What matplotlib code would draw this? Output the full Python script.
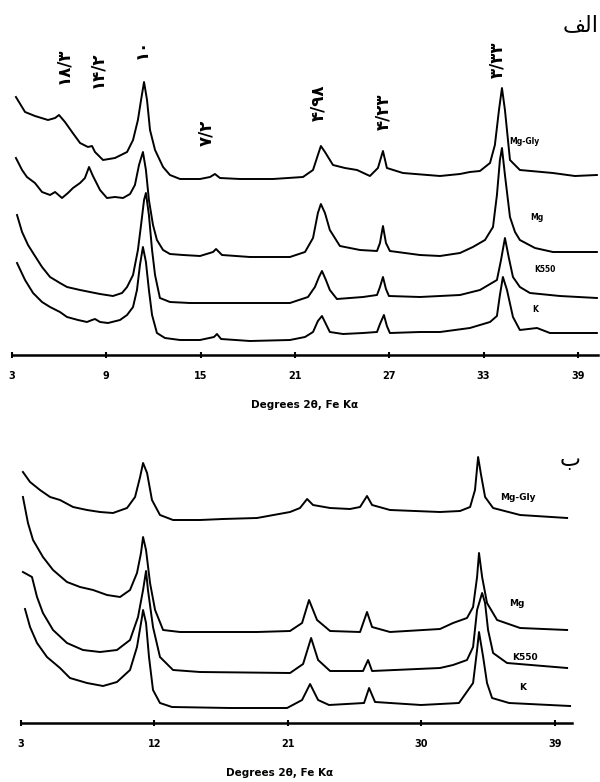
import matplotlib
matplotlib.use("Agg")
import matplotlib.pyplot as plt

plt.rcParams['font.family'] = ['DejaVu Sans']

# ---------------- Panel A (الف) ----------------
a_ticks = [3, 9, 15, 21, 27, 33, 39]

a_mggly_x = [3.25, 3.83, 4.46, 5.29, 5.74, 5.99, 6.37, 6.82, 7.33, 7.83, 8.09, 8.28, 8.79, 9.55, 10.32, 10.70, 11.01, 11.21, 11.40, 11.59, 11.78, 12.10, 12.61, 13.05, 13.69, 14.96, 15.60, 15.91, 16.23, 17.50, 19.60, 21.51, 22.15, 22.46, 22.65, 22.91, 23.42, 24.18, 24.95, 25.77, 26.28, 26.60, 26.85, 27.87, 30.23, 31.50, 32.13, 32.77, 33.41, 33.72, 33.98, 34.17, 34.36, 34.68, 35.31, 37.41, 38.81, 40.21]
a_mggly_y = [258, 243, 239, 235, 237, 240, 233, 223, 212, 208, 209, 203, 195, 197, 203, 215, 235, 255, 273, 255, 225, 205, 188, 180, 176, 176, 178, 181, 177, 176, 176, 178, 185, 200, 209, 203, 190, 187, 185, 179, 187, 204, 187, 182, 179, 181, 183, 184, 192, 210, 245, 267, 245, 195, 185, 182, 179, 180]

a_mg_x = [3.25, 3.64, 3.95, 4.46, 4.91, 5.42, 5.74, 6.18, 6.56, 6.88, 7.33, 7.64, 7.90, 8.15, 8.60, 9.04, 9.55, 10.06, 10.51, 10.82, 11.08, 11.33, 11.52, 11.71, 11.97, 12.22, 12.61, 13.05, 13.88, 14.96, 15.79, 15.98, 16.36, 18.14, 20.68, 21.64, 22.15, 22.46, 22.65, 22.91, 23.22, 23.86, 25.14, 26.22, 26.41, 26.60, 26.79, 27.04, 28.95, 30.23, 31.50, 32.32, 33.09, 33.60, 33.85, 34.04, 34.17, 34.36, 34.68, 35.00, 35.31, 36.27, 37.41, 40.21]
a_mg_y = [197, 185, 178, 172, 163, 160, 163, 157, 162, 167, 172, 177, 188, 179, 165, 157, 158, 157, 161, 170, 190, 203, 185, 155, 130, 115, 105, 101, 100, 99, 103, 106, 100, 98, 98, 103, 117, 142, 151, 142, 125, 109, 105, 104, 112, 129, 112, 104, 100, 99, 102, 108, 115, 128, 160, 195, 207, 180, 138, 123, 115, 107, 103, 103]

a_k550_x = [3.32, 3.64, 4.02, 4.34, 4.91, 5.42, 6.05, 6.50, 7.33, 7.96, 8.60, 9.42, 10.00, 10.32, 10.70, 11.01, 11.21, 11.40, 11.52, 11.71, 11.91, 12.10, 12.41, 13.05, 14.32, 17.50, 20.68, 21.83, 22.27, 22.53, 22.72, 22.97, 23.22, 23.67, 25.33, 26.22, 26.41, 26.60, 26.79, 26.98, 28.95, 30.23, 31.50, 32.77, 33.85, 34.11, 34.36, 34.61, 34.87, 35.31, 35.95, 37.86, 40.21]
a_k550_y = [140, 123, 110, 102, 88, 78, 72, 68, 65, 63, 61, 59, 62, 68, 80, 105, 130, 155, 162, 140, 105, 80, 57, 53, 52, 52, 52, 58, 68, 78, 84, 75, 65, 56, 58, 60, 68, 78, 66, 59, 58, 59, 60, 65, 75, 95, 117, 97, 78, 68, 62, 59, 57]

a_k_x = [3.32, 3.83, 4.34, 4.91, 5.42, 6.05, 6.50, 7.20, 7.77, 8.09, 8.28, 8.60, 9.11, 9.87, 10.32, 10.70, 10.95, 11.14, 11.33, 11.52, 11.71, 11.91, 12.22, 12.73, 13.69, 14.96, 15.85, 16.04, 16.30, 18.14, 20.68, 21.64, 22.15, 22.46, 22.72, 22.97, 23.22, 24.06, 25.33, 26.22, 26.41, 26.66, 26.85, 27.04, 28.95, 30.23, 32.13, 33.41, 33.85, 34.04, 34.23, 34.49, 34.87, 35.31, 36.40, 37.22, 40.21]
a_k_y = [92, 75, 62, 53, 48, 43, 38, 35, 33, 35, 36, 33, 32, 35, 40, 48, 65, 90, 108, 93, 65, 40, 22, 17, 15, 15, 18, 21, 16, 14, 15, 18, 23, 34, 39, 31, 23, 21, 22, 23, 31, 40, 29, 22, 23, 23, 27, 33, 39, 60, 78, 65, 38, 25, 27, 22, 22]

a_labels = ["Mg-Gly", "Mg", "K550", "K"]
a_label_pos = [(35.6, 213), (36.4, 138), (36.9, 85), (36.3, 45)]

a_peaks = ["۱۸/۳", "۱۴/۲", "۱۰", "۷/۲", "۴/۹۸", "۴/۲۳", "۳/۳۳"]
a_peak_pos = [(6.24, 289), (8.41, 285), (11.27, 306), (15.34, 222), (22.46, 252), (26.60, 243), (33.85, 295)]

# ---------------- Panel B (ب) ----------------
b_ticks = [3, 12, 21, 30, 39]

b_mggly_x = [3.13, 3.61, 4.28, 4.96, 5.63, 6.51, 7.45, 8.33, 9.20, 10.15, 10.69, 11.03, 11.23, 11.50, 11.83, 12.37, 13.25, 15.07, 16.62, 18.91, 21.14, 21.81, 22.29, 22.69, 23.84, 25.18, 25.86, 26.33, 26.67, 27.88, 31.25, 32.60, 33.28, 33.61, 33.82, 34.02, 34.29, 34.83, 36.65, 39.82]
b_mggly_y = [251, 241, 233, 226, 223, 216, 213, 211, 210, 215, 226, 246, 260, 250, 223, 208, 203, 203, 204, 205, 211, 215, 224, 218, 215, 214, 216, 227, 218, 213, 211, 212, 216, 233, 266, 248, 226, 215, 208, 205]

b_mg_x = [3.13, 3.47, 3.81, 4.48, 5.16, 6.10, 6.98, 7.86, 8.80, 9.68, 10.35, 10.82, 11.09, 11.23, 11.43, 11.70, 12.04, 12.58, 13.72, 15.07, 18.91, 21.14, 21.95, 22.42, 22.96, 23.84, 25.86, 26.33, 26.67, 27.88, 31.25, 32.13, 33.07, 33.48, 33.75, 33.88, 34.09, 34.42, 35.10, 36.65, 39.82]
b_mg_y = [226, 200, 183, 166, 153, 141, 136, 133, 128, 126, 133, 150, 170, 186, 173, 140, 113, 93, 91, 91, 91, 92, 100, 123, 103, 92, 91, 111, 96, 91, 94, 100, 105, 116, 146, 170, 146, 120, 103, 95, 93]

b_k550_x = [3.13, 3.74, 4.08, 4.48, 5.16, 6.10, 7.18, 8.33, 9.47, 10.35, 10.89, 11.23, 11.43, 11.56, 11.90, 12.37, 13.25, 15.07, 21.14, 22.02, 22.56, 23.03, 23.84, 26.06, 26.40, 26.67, 31.25, 32.13, 33.07, 33.48, 33.75, 34.09, 34.29, 34.49, 34.83, 35.77, 39.82]
b_k550_y = [151, 146, 126, 110, 93, 80, 73, 71, 73, 83, 106, 133, 152, 133, 96, 66, 53, 51, 50, 59, 85, 63, 52, 52, 63, 52, 55, 58, 63, 76, 113, 130, 120, 93, 70, 60, 55]

b_k_x = [3.27, 3.61, 4.08, 4.75, 5.63, 6.30, 7.45, 8.53, 9.47, 10.35, 10.82, 11.16, 11.23, 11.43, 11.63, 11.90, 12.37, 13.18, 17.09, 20.94, 21.95, 22.49, 23.03, 23.77, 26.13, 26.47, 26.87, 29.97, 32.53, 33.48, 33.75, 33.88, 34.16, 34.42, 34.76, 35.91, 40.02]
b_k_y = [114, 96, 80, 66, 55, 45, 40, 37, 41, 53, 76, 106, 113, 100, 66, 33, 20, 16, 15, 15, 23, 39, 23, 18, 20, 35, 21, 18, 20, 40, 73, 91, 66, 40, 25, 20, 17]

b_labels = ["Mg-Gly", "Mg", "K550", "K"]
b_label_pos = [(36.5, 225), (36.4, 120), (37.0, 66), (36.85, 35)]

xlabel = "Degrees 2θ, Fe Kα"
title_a = "\ufed2\ufedf\ufe8d"   # الف (visual order, shaped forms)
title_b = "ب"

W, H = 600, 782
fig = plt.figure(figsize=(6.0, 7.82), dpi=100)


def style_axis(ax, ticks, xlim, ylim):
    ax.set_xlim(*xlim)
    ax.set_ylim(*ylim)
    for s in ("top", "left", "right"):
        ax.spines[s].set_visible(False)
    ax.spines["bottom"].set_linewidth(1.8)
    ax.set_yticks([])
    ax.set_xticks(ticks)
    ax.set_xticklabels([str(t) for t in ticks], fontsize=7, fontweight="bold")
    ax.tick_params(axis="x", direction="inout", length=5, width=1.5, pad=9)
    ax.set_xlabel(xlabel, fontsize=7.5, fontweight="bold")
    ax.patch.set_alpha(0)


axA = fig.add_axes([12 / W, 1 - 355 / H, 586 / W, 335 / H])
for xs, ys in [(a_mggly_x, a_mggly_y), (a_mg_x, a_mg_y), (a_k550_x, a_k550_y), (a_k_x, a_k_y)]:
    axA.plot(xs, ys, color="black", lw=1.4, solid_joinstyle="round")
style_axis(axA, a_ticks, (3, 40.28), (0, 335))
axA.xaxis.set_label_coords(0.5, -0.135)
for lab, (x, y) in zip(a_labels, a_label_pos):
    axA.text(x, y, lab, fontsize=5.5, fontweight="bold", ha="center", va="center")
for lab, (x, y) in zip(a_peaks, a_peak_pos):
    axA.text(x, y, lab, fontsize=12, fontweight="bold", rotation=90,
             ha="center", va="center")

axB = fig.add_axes([21 / W, 1 - 723 / H, 551 / W, 283 / H])
for xs, ys in [(b_mggly_x, b_mggly_y), (b_mg_x, b_mg_y), (b_k550_x, b_k550_y), (b_k_x, b_k_y)]:
    axB.plot(xs, ys, color="black", lw=1.4, solid_joinstyle="round")
style_axis(axB, b_ticks, (3, 40.15), (0, 283))
axB.xaxis.set_label_coords(0.47, -0.16)
for lab, (x, y) in zip(b_labels, b_label_pos):
    axB.text(x, y, lab, fontsize=6.5, fontweight="bold", ha="center", va="center")

fig.text(0.967, 1 - 25 / H, title_a, fontsize=16, ha="center", va="center")
fig.text(0.95, 1 - 460 / H, title_b, fontsize=16, ha="center", va="center")

fig.savefig("out.png", dpi=100)
